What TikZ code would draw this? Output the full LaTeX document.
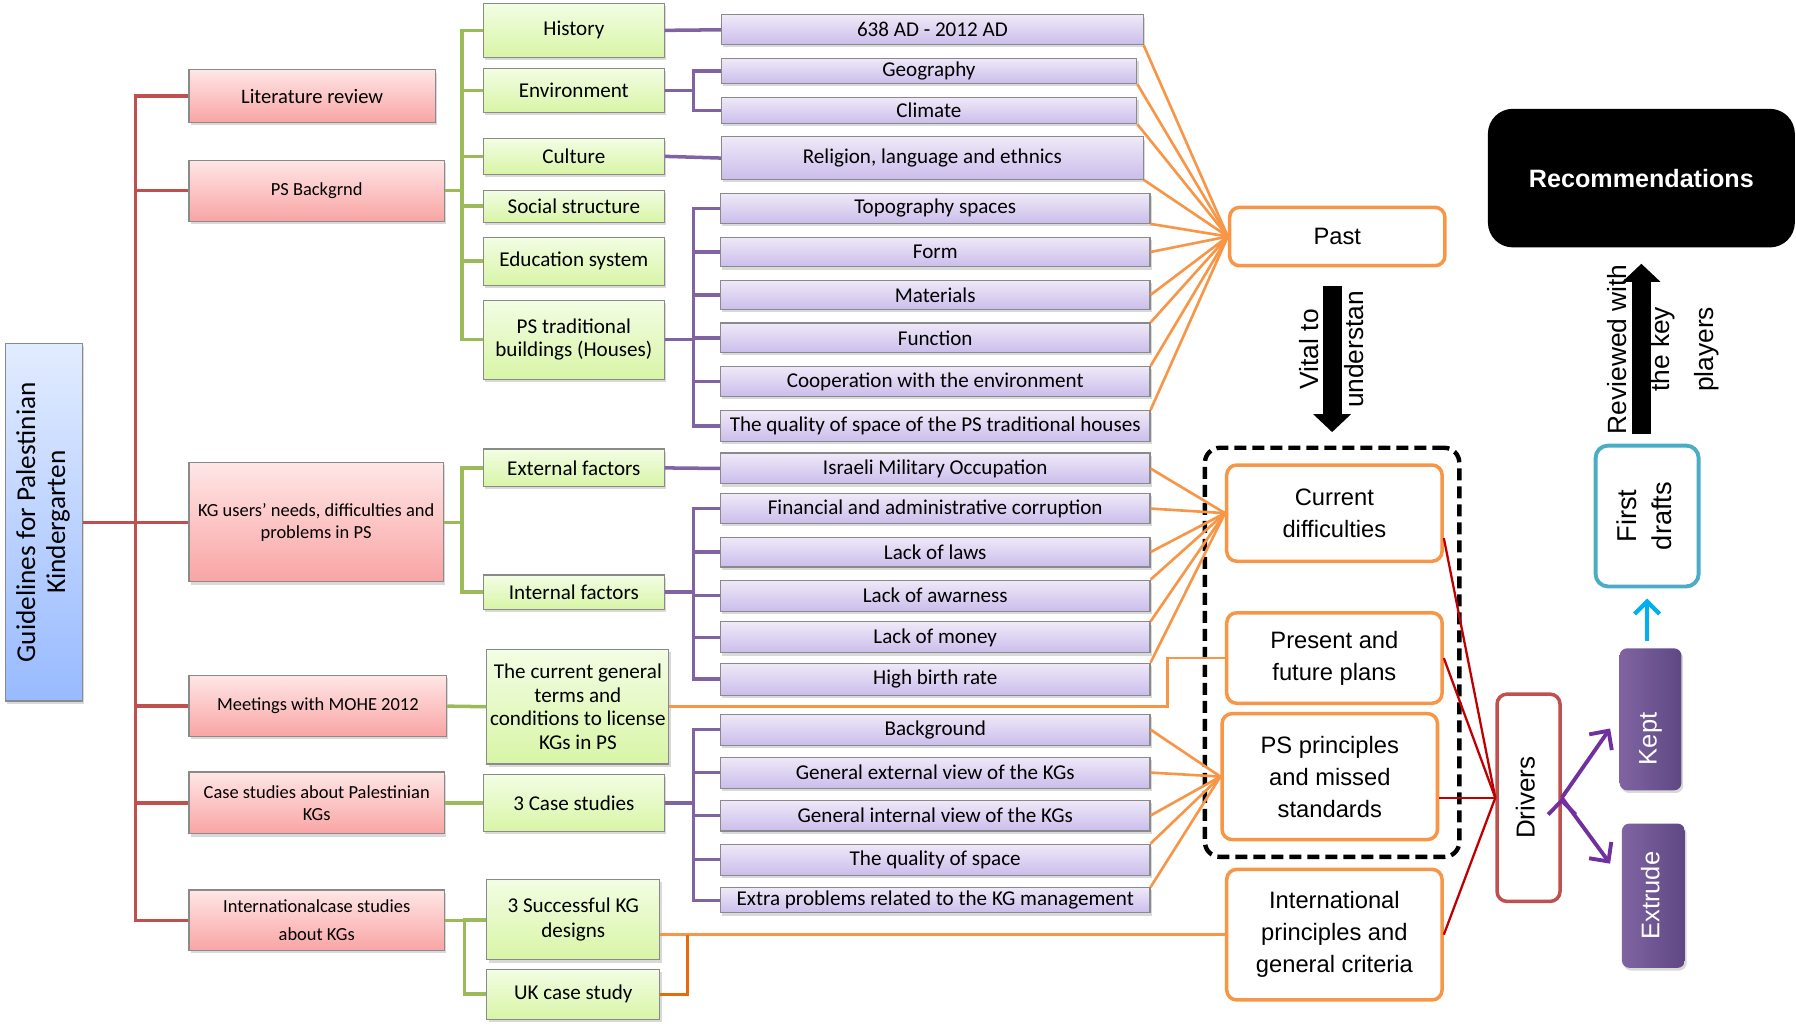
\documentclass[tikz,border=0pt]{standalone}
\usepackage{fontspec}
\usepackage{graphicx}
\setmainfont{Liberation Sans}
\newfontfamily\calfont{Carlito}
\usetikzlibrary{shapes, arrows.meta, calc, positioning, fit, shadows}

\newlength\ux
\setlength\ux{0.22908mm}
\newcommand\vtext[1]{\rotatebox{90}{\begin{tabular}{@{}c@{}}#1\end{tabular}}}

\definecolor{boxgray}{HTML}{8A8A8A}
\definecolor{pinktop}{HTML}{FFE6E6}
\definecolor{pinkbot}{HTML}{F9A4A4}
\definecolor{greentop}{HTML}{F3FDE4}
\definecolor{greenbot}{HTML}{D8F5A6}
\definecolor{purptop}{HTML}{EFE9F8}
\definecolor{purpbot}{HTML}{CBBDEB}
\definecolor{bluetop}{HTML}{E2ECFF}
\definecolor{bluebot}{HTML}{98BAFF}
\definecolor{redline}{HTML}{C0504D}
\definecolor{greenline}{HTML}{9BBB59}
\definecolor{purpline}{HTML}{8064A2}
\definecolor{orangeline}{HTML}{F79646}
\definecolor{darkorange}{HTML}{E46C0A}
\definecolor{darkred}{HTML}{C00000}
\definecolor{arrowpurp}{HTML}{7030A0}
\definecolor{cyanarrow}{HTML}{00B0F0}
\definecolor{draftblue}{HTML}{4BACC6}
\definecolor{keptleft}{HTML}{8064A2}
\definecolor{keptright}{HTML}{5E4884}

\begin{document}
\begin{tikzpicture}[x=\ux, y=-\ux, >=Stealth]
	\tikzstyle{boxbase} = [draw=boxgray, line width=0.6pt, inner sep=1pt, align=center, drop shadow={opacity=0.3, shadow xshift=1pt, shadow yshift=-1.5pt}]
	\tikzstyle{rootbox} = [boxbase, top color=bluetop, bottom color=bluebot, font=\calfont\fontsize{15.5}{17}\selectfont]
	\tikzstyle{pinkbox} = [boxbase, top color=pinktop, bottom color=pinkbot, font=\calfont\fontsize{10.5}{12.2}\selectfont]
	\tikzstyle{greenbox} = [boxbase, top color=greentop, bottom color=greenbot, minimum width=158*\ux, font=\calfont\fontsize{12}{13.4}\selectfont]
	\tikzstyle{purpbox} = [boxbase, top color=purptop, bottom color=purpbot, minimum width=375*\ux, minimum height=26*\ux, font=\calfont\fontsize{12}{13.4}\selectfont]
	\tikzstyle{stage} = [draw=orangeline, line width=2pt, rounded corners=2mm, fill=white, align=center, minimum width=188*\ux, font=\fontsize{13.5}{18.2}\selectfont]
	\tikzstyle{keptbox} = [left color=keptleft, right color=keptright, rounded corners=1.5mm, text=white, font=\fontsize{14.5}{17}\selectfont, drop shadow={opacity=0.3, shadow xshift=1pt, shadow yshift=-1.5pt}]
	\tikzstyle{redl} = [draw=redline, line width=2pt]
	\tikzstyle{greenl} = [draw=greenline, line width=2pt]
	\tikzstyle{purpl} = [draw=purpline, line width=2pt]
	\tikzstyle{orangel} = [draw=orangeline, line width=1.5pt]
	\tikzstyle{darkredl} = [draw=darkred, line width=1.3pt]
	\tikzstyle{bigarrow} = [line width=3.8mm, -{Triangle[width=7.4mm, length=3.6mm]}]

	\useasboundingbox (0,0) rectangle (1568,895);

	% left column
	\node[rootbox, minimum width=67*\ux, minimum height=312*\ux] (root) at (38.5,456) {\vtext{Guidelines for Palestinian\\Kindergarten}};

	\node[pinkbox, minimum width=215*\ux, minimum height=46*\ux, font=\calfont\fontsize{11.7}{13}\selectfont] (lit) at (272.5,84) {Literature review};
	\node[pinkbox, minimum width=223*\ux, minimum height=53*\ux] (psb) at (276.5,166.5) {PS Backgrnd};
	\node[pinkbox, minimum width=222*\ux, minimum height=104*\ux] (kgu) at (276,456) {KG users’ needs, difficulties and\\problems in PS};
	\node[pinkbox, minimum width=225*\ux, minimum height=53*\ux] (mohe) at (277.5,616.5) {Meetings with MOHE 2012};
	\node[pinkbox, minimum width=223*\ux, minimum height=54*\ux] (cspal) at (276.5,701) {Case studies about Palestinian\\KGs};
	\node[pinkbox, minimum width=223*\ux, minimum height=53*\ux, font=\calfont\fontsize{10.5}{16}\selectfont] (intl) at (276.5,803.5) {Internationalcase studies\\about KGs};

	\node[greenbox, minimum height=47*\ux] (hist) at (501,26.5) {History};
	\node[greenbox, minimum height=38*\ux] (env) at (501,79) {Environment};
	\node[greenbox, minimum height=31*\ux] (cult) at (501,136.5) {Culture};
	\node[greenbox, minimum height=28*\ux] (soc) at (501,180) {Social structure};
	\node[greenbox, minimum height=42*\ux] (edu) at (501,228) {Education system};
	\node[greenbox, minimum height=69*\ux] (trad) at (501,296.5) {PS traditional\\buildings (Houses)};
	\node[greenbox, minimum height=33*\ux] (ext) at (501,408.5) {External factors};
	\node[greenbox, minimum height=30*\ux] (int) at (501,517) {Internal factors};
	\node[greenbox, minimum width=159*\ux, minimum height=100*\ux] (terms) at (504.5,617) {The current general\\terms and\\conditions to license\\KGs in PS};
	\node[greenbox, minimum height=50*\ux] (cs3) at (501,701) {3 Case studies};
	\node[greenbox, minimum width=151*\ux, minimum height=70*\ux, font=\calfont\fontsize{12}{14.3}\selectfont] (succ) at (500.5,803) {3 Successful KG\\designs};
	\node[greenbox, minimum width=151*\ux, minimum height=44*\ux] (uk) at (500.5,868) {UK case study};

	% purple column
	\node[purpbox, minimum width=368*\ux] (ad) at (814,26) {638 AD - 2012 AD};
	\node[purpbox, minimum width=363*\ux, minimum height=22*\ux] (geo) at (811,62) {Geography};
	\node[purpbox, minimum width=363*\ux, minimum height=23*\ux] (clim) at (811,96.5) {Climate};
	\node[purpbox, minimum width=368*\ux, minimum height=37*\ux] (rel) at (814,138) {Religion, language and ethnics};
	\node[purpbox] (topo) at (816.5,182) {Topography spaces};
	\node[purpbox] (form) at (816.5,220) {Form};
	\node[purpbox] (mat) at (816.5,257.5) {Materials};
	\node[purpbox] (func) at (816.5,295) {Function};
	\node[purpbox] (coop) at (816.5,333) {Cooperation with the environment};
	\node[purpbox, minimum height=27*\ux] (qual) at (816.5,372) {The quality of space of the PS traditional houses};
	\node[purpbox, minimum height=27*\ux] (isr) at (816.5,409) {Israeli Military Occupation};
	\node[purpbox] (fin) at (816.5,444) {Financial and administrative corruption};
	\node[purpbox] (laws) at (816.5,482) {Lack of laws};
	\node[purpbox, minimum height=27*\ux] (awar) at (816.5,520) {Lack of awarness};
	\node[purpbox, minimum height=27*\ux] (money) at (816.5,556.5) {Lack of money};
	\node[purpbox, minimum height=28*\ux] (birth) at (816.5,593) {High birth rate};
	\node[purpbox, minimum height=27*\ux] (bg) at (816.5,637) {Background};
	\node[purpbox, minimum height=27*\ux] (gext) at (816.5,674.5) {General external view of the KGs};
	\node[purpbox, minimum height=27*\ux] (gint) at (816.5,712) {General internal view of the KGs};
	\node[purpbox, minimum height=27*\ux] (qsp) at (816.5,750.5) {The quality of space};
	\node[purpbox, minimum height=22*\ux] (extra) at (816.5,786) {Extra problems related to the KG management};

	% right part
	\node[stage, minimum height=51*\ux] (past) at (1167.5,206.5) {Past};
	\node[stage, minimum height=84*\ux] (curr) at (1165,448) {Current\\difficulties};
	\node[stage, minimum height=79*\ux] (pres) at (1165,574.5) {Present and\\future plans};
	\node[stage, minimum height=110*\ux] (psp) at (1161,678) {PS principles\\and missed\\standards};
	\node[stage, minimum height=114*\ux] (intlp) at (1165,816) {International\\principles and\\general criteria};
	\node[draw, line width=2.5pt, dash pattern=on 2.4mm off 1.2mm, rounded corners=3mm, inner sep=3.1mm, fit=(curr)(pres)(psp)] (dash) {};

	\node[draw=redline, line width=2pt, rounded corners=2mm, fill=white, minimum width=55*\ux, minimum height=181*\ux, font=\fontsize{14.8}{17}\selectfont] (drv) at (1334.5,696.5) {\vtext{Drivers}};
	\node[keptbox, minimum width=54*\ux, minimum height=124*\ux] (kept) at (1441,628) {\vtext{Kept\hspace*{7.8mm}}};
	\node[keptbox, minimum width=55*\ux, minimum height=126*\ux] (extr) at (1443.5,782) {\vtext{Extrude}};
	\node[draw=draftblue, line width=2.2pt, rounded corners=2.5mm, fill=white, minimum width=90*\ux, minimum height=123*\ux, font=\fontsize{15.5}{19.5}\selectfont] (drafts) at (1438,450.5) {\vtext{First\\drafts}};
	\node[fill=black, rounded corners=5mm, text=white, minimum width=268*\ux, minimum height=121*\ux, font=\bfseries\fontsize{14.3}{16}\selectfont] (rec) at (1433,155.5) {Recommendations};

	\node[rotate=90, align=center, font=\fontsize{15}{26}\selectfont] (vital) at (1162.5,305) {Vital to\\understan};
	\node[rotate=90, align=center, font=\fontsize{15}{25}\selectfont] (revtext) at (1452,305) {Reviewed with\\the key\\players};

	% red trunk
	\draw[redl] (root.east) -- ++(46,0) |- (lit.west);
	\draw[redl] (root.east) -- ++(46,0) |- (psb.west);
	\draw[redl] (root.east) -- (kgu.west);
	\draw[redl] (root.east) -- ++(46,0) |- (mohe.west);
	\draw[redl] (root.east) -- ++(46,0) |- (cspal.west);
	\draw[redl] (root.east) -- ++(46,0) |- (intl.west);

	% green branches
	\draw[greenl] (psb.east) -- ++(15,0) |- (hist.west);
	\draw[greenl] (psb.east) -- ++(15,0) |- (env.west);
	\draw[greenl] (psb.east) -- ++(15,0) |- (cult.west);
	\draw[greenl] (psb.east) -- ++(15,0) |- (soc.west);
	\draw[greenl] (psb.east) -- ++(15,0) |- (edu.west);
	\draw[greenl] (psb.east) -- ++(15,0) |- (trad.west);
	\draw[greenl] (kgu.east) -- ++(16,0) |- (ext.west);
	\draw[greenl] (kgu.east) -- ++(16,0) |- (int.west);
	\draw[greenl] (mohe.east) -- (terms.west);
	\draw[greenl] (cspal.east) -- (cs3.west);
	\draw[greenl] (intl.east) -- ++(17,0) |- (succ.west);
	\draw[greenl] (intl.east) -- ++(17,0) |- (uk.west);

	% purple branches
	\draw[purpl] (hist.east) -- (ad.west);
	\draw[purpl] (env.east) -- ++(25,0) |- (geo.west);
	\draw[purpl] (env.east) -- ++(25,0) |- (clim.west);
	\draw[purpl] (cult.east) -- (rel.west);
	\draw[purpl] (trad.east) -- ++(25,0) |- (topo.west);
	\draw[purpl] (trad.east) -- ++(25,0) |- (form.west);
	\draw[purpl] (trad.east) -- ++(25,0) |- (mat.west);
	\draw[purpl] (trad.east) -- ++(25,0) |- (func.west);
	\draw[purpl] (trad.east) -- ++(25,0) |- (coop.west);
	\draw[purpl] (trad.east) -- ++(25,0) |- (qual.west);
	\draw[purpl] (ext.east) -- (isr.west);
	\draw[purpl] (int.east) -- ++(25,0) |- (fin.west);
	\draw[purpl] (int.east) -- ++(25,0) |- (laws.west);
	\draw[purpl] (int.east) -- ++(25,0) |- (awar.west);
	\draw[purpl] (int.east) -- ++(25,0) |- (money.west);
	\draw[purpl] (int.east) -- ++(25,0) |- (birth.west);
	\draw[purpl] (cs3.east) -- ++(25,0) |- (bg.west);
	\draw[purpl] (cs3.east) -- ++(25,0) |- (gext.west);
	\draw[purpl] (cs3.east) -- ++(25,0) |- (gint.west);
	\draw[purpl] (cs3.east) -- ++(25,0) |- (qsp.west);
	\draw[purpl] (cs3.east) -- ++(25,0) |- (extra.west);

	% orange fans
	\path[orangel]
		(ad.south east) edge (past.west)
		(geo.south east) edge (past.west)
		(clim.south east) edge (past.west)
		(rel.south east) edge (past.west)
		(topo.south east) edge (past.west)
		(form.east) edge (past.west)
		(mat.east) edge (past.west)
		(func.north east) edge (past.west)
		(coop.north east) edge (past.west)
		(qual.north east) edge (past.west)

		(isr.east) edge (curr.west)
		(fin.east) edge (curr.west)
		(laws.east) edge (curr.west)
		(awar.north east) edge (curr.west)
		(money.north east) edge (curr.west)
		(birth.north east) edge (curr.west)

		(bg.east) edge (psp.west)
		(gext.east) edge (psp.west)
		(gint.east) edge (psp.west)
		(qsp.north east) edge (psp.west)
		(extra.north east) edge (psp.west)
	;
	\draw[orangel] (terms.east) -- ++(435,0) |- (pres.west);
	\draw[orangel] (succ.east |- intlp.west) -- (intlp.west);
	\coordinate (ukjoin) at (600,816);
	\draw[draw=darkorange, line width=1.5pt] (uk.east) -| (ukjoin);

	% drivers
	\path[darkredl]
		(drv.west) edge ($(curr.east)!0.5!(curr.south east)$)
		(drv.west) edge (pres.east)
		(drv.west) edge (psp.east |- drv.west)
		(drv.west) edge (intlp.east)
	;
	\path[draw=arrowpurp, line width=2.2pt, -{Straight Barb[length=2.8mm, width=5.5mm]}]
		(drv.east) edge ($(kept.west)+(-8,8)$)
		(drv.east) edge ($(extr.west)+(-10,-28)$)
	;
	\draw[draw=cyanarrow, line width=2.5pt, -{Straight Barb[length=2.5mm, width=5mm]}, shorten <=1.4mm, shorten >=2mm] (drafts.south |- kept.north) -- (drafts.south);

	\draw[bigarrow, shorten <=3.7mm, shorten >=2.7mm] (dash.north |- past.south) -- (dash.north);
	\draw[bigarrow, shorten <=2mm, shorten >=3.2mm] (rec.south |- drafts.north) -- (rec.south);
\end{tikzpicture}
\end{document}
